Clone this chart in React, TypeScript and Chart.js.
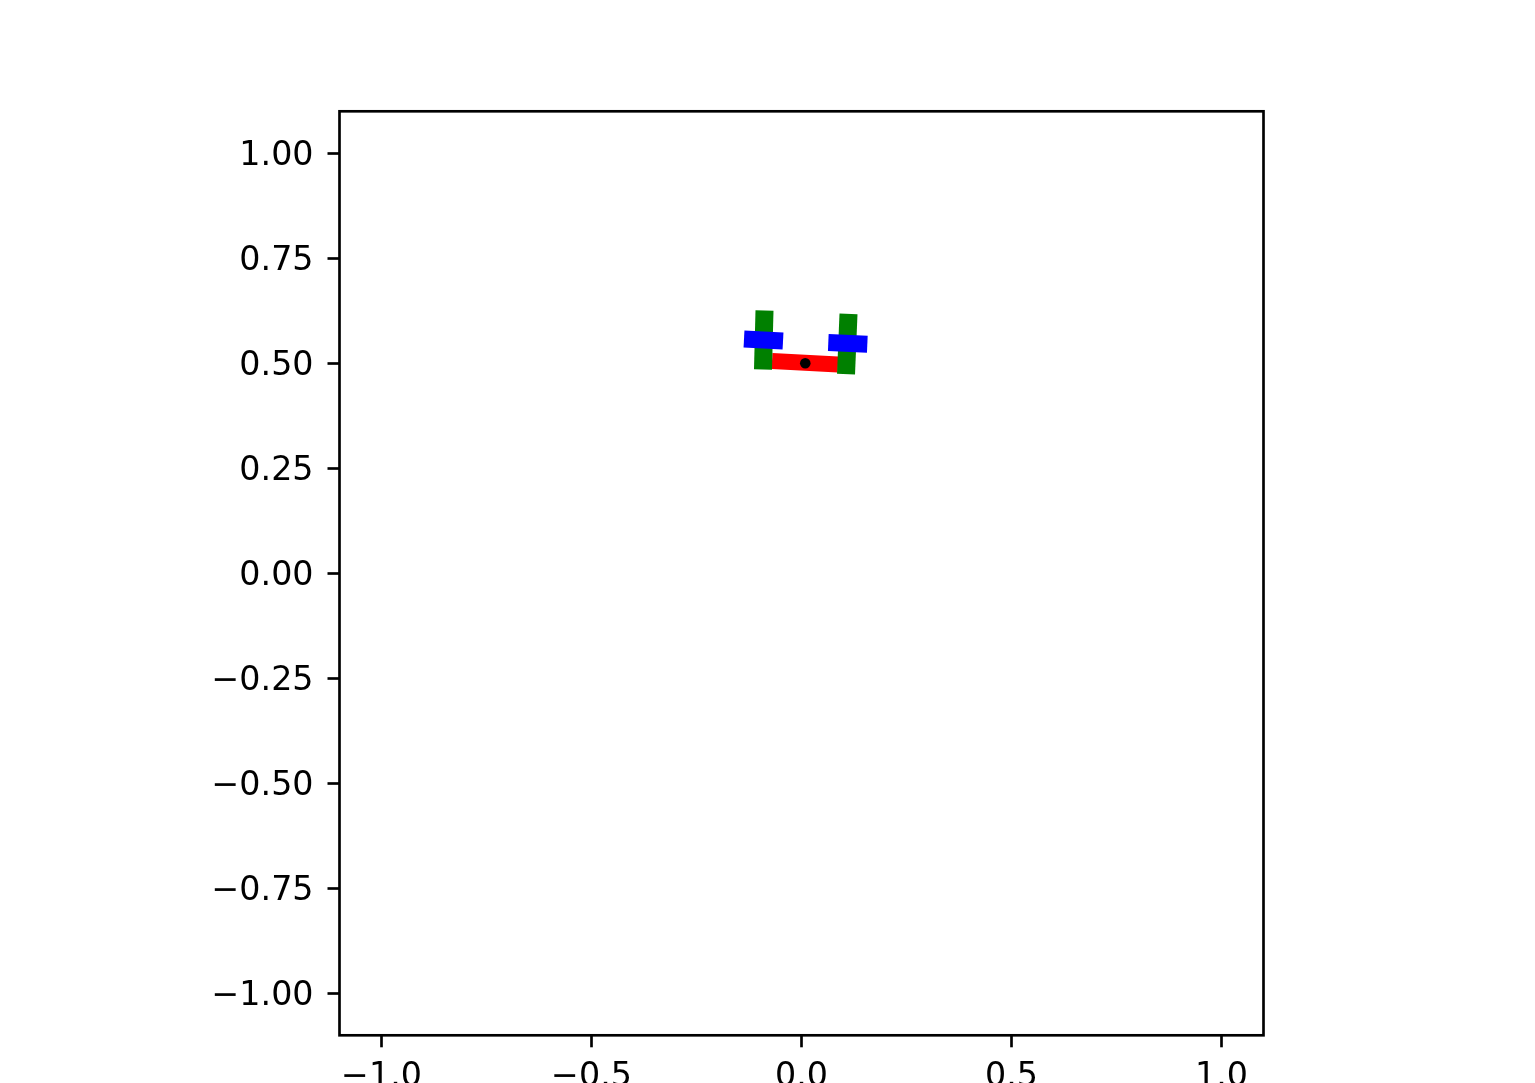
import { useEffect, useRef } from "react";
import { Chart, registerables } from "chart.js";

Chart.register(...registerables);

// Axis ticks
const xTicks = [-1.0, -0.5, 0.0, 0.5, 1.0];
const yTicks = [-1.0, -0.75, -0.5, -0.25, 0.0, 0.25, 0.5, 0.75, 1.0];
const axisMin = -1.1;
const axisMax = 1.1;

// Segments (data coordinates)
const redBody = [
  { x: -0.0702, y: 0.5055 },
  { x: 0.0869, y: 0.4971 },
];
const greenLeft = [
  { x: -0.0881, y: 0.6257 },
  { x: -0.0917, y: 0.4852 },
];
const greenRight = [
  { x: 0.1119, y: 0.6174 },
  { x: 0.106, y: 0.4745 },
];
const blueLeft = [
  { x: -0.1369, y: 0.5579 },
  { x: -0.044, y: 0.5531 },
];
const blueRight = [
  { x: 0.0638, y: 0.5495 },
  { x: 0.1567, y: 0.5455 },
];
const centerPoint = [{ x: 0.009, y: 0.5 }];

const fmt = (v: number, d: number) => v.toFixed(d).replace("-", "\u2212");

const framePlugin = {
  id: "frame",
  afterDraw(chart: any) {
    const { ctx, chartArea } = chart;
    ctx.save();
    ctx.strokeStyle = "#000";
    ctx.lineWidth = 2.67;
    ctx.strokeRect(
      chartArea.left,
      chartArea.top,
      chartArea.right - chartArea.left,
      chartArea.bottom - chartArea.top
    );
    ctx.restore();
  },
};

export default function App() {
  const ref = useRef<HTMLCanvasElement | null>(null);

  useEffect(() => {
    if (!ref.current) return;
    const seg = (data: any[], color: string, width: number, order: number) => ({
      data,
      showLine: true,
      borderColor: color,
      backgroundColor: color,
      borderWidth: width,
      borderCapStyle: "butt" as const,
      pointRadius: 0,
      pointHoverRadius: 0,
      order,
    });
    const font = { family: "'DejaVu Sans'", size: 33.3 };
    const grid = {
      display: true,
      drawOnChartArea: false,
      drawTicks: true,
      tickLength: 12,
      tickWidth: 2.67,
      tickColor: "#000",
      color: "#000",
    };
    const chart = new Chart(ref.current, {
      type: "scatter",
      data: {
        datasets: [
          {
            data: centerPoint,
            showLine: false,
            pointRadius: 5.3,
            pointBackgroundColor: "#000",
            pointBorderWidth: 0,
            order: 0,
          } as any,
          seg(blueLeft, "#0000ff", 17, 1),
          seg(blueRight, "#0000ff", 17, 1),
          seg(greenLeft, "#008000", 18, 2),
          seg(greenRight, "#008000", 18, 2),
          seg(redBody, "#ff0000", 16, 3),
        ],
      },
      options: {
        animation: false,
        responsive: true,
        maintainAspectRatio: false,
        events: [],
        layout: { padding: { left: 0, top: 111.3, right: 271.5, bottom: 0 } },
        plugins: { legend: { display: false }, tooltip: { enabled: false } },
        scales: {
          x: {
            type: "linear",
            min: axisMin,
            max: axisMax,
            border: { display: false },
            grid,
            ticks: {
              font,
              color: "#000",
              padding: 10,
              maxRotation: 0,
              autoSkip: false,
              callback: (v: any) => fmt(Number(v), 1),
            },
            afterBuildTicks: (s: any) => {
              s.ticks = xTicks.map((v) => ({ value: v }));
            },
            afterFit: (s: any) => {
              s.height = 47.7;
            },
          },
          y: {
            type: "linear",
            min: axisMin,
            max: axisMax,
            border: { display: false },
            grid,
            ticks: {
              font,
              color: "#000",
              padding: 14,
              labelOffset: 3.5,
              autoSkip: false,
              callback: (v: any) => fmt(Number(v), 2),
            },
            afterBuildTicks: (s: any) => {
              s.ticks = yTicks.map((v) => ({ value: v }));
            },
            afterFit: (s: any) => {
              s.width = 339.5;
            },
          },
        },
      },
      plugins: [framePlugin],
    });
    return () => chart.destroy();
  }, []);

  return (
    <div
      style={{
        position: "fixed",
        left: 0,
        top: 0,
        width: "1535px",
        height: "1083px",
        background: "#fff",
      }}
    >
      <canvas ref={ref} />
    </div>
  );
}
